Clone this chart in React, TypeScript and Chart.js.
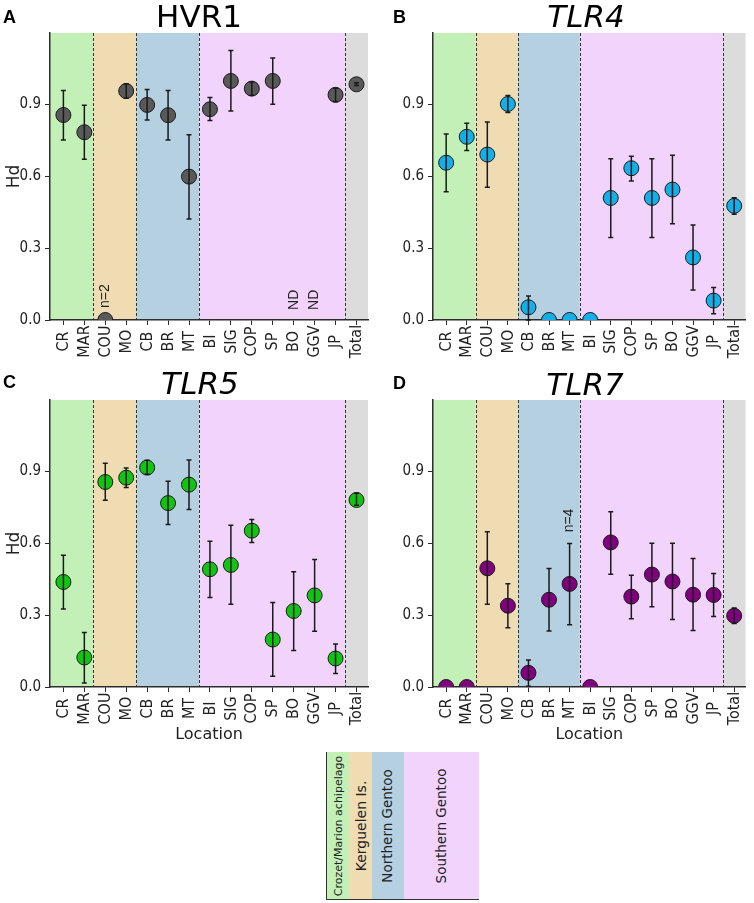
import React, { useEffect, useRef } from 'react';
import { Chart, registerables } from 'chart.js';

Chart.register(...registerables);

// ---------- data ----------
const locations = ['CR', 'MAR', 'COU', 'MO', 'CB', 'BR', 'MT', 'BI', 'SIG', 'COP', 'SP', 'BO', 'GGV', 'JP', 'Total'];
const yTickValues = [0, 0.3, 0.6, 0.9];
const yMax = 1.197;
const xMin = -0.64;
const xMax = 14.55;
// separators between population groups (in location-index units)
const groupEdges = [1.43, 3.48, 6.5, 13.45];
const groupColors = ['#c2f0b7', '#f0dcb3', '#b4d0e1', '#f2d3fb', '#dcdcdc'];
const legendGroups = ['Crozet/Marion achipelago', 'Kerguelen Is.', 'Northern Gentoo', 'Southern Gentoo'];

const hvr1Hd = [0.855, 0.783, 0, 0.955, 0.897, 0.854, 0.598, 0.879, 0.997, 0.965, 0.997, null, null, 0.939, 0.983];
const hvr1Lo = [0.751, 0.670, null, 0.925, 0.834, 0.751, 0.421, 0.832, 0.872, 0.937, 0.900, null, null, 0.911, 0.978];
const hvr1Hi = [0.957, 0.896, null, 0.985, 0.961, 0.957, 0.773, 0.928, 1.124, 0.993, 1.093, null, null, 0.967, 0.989];
const hvr1Notes = [
  { index: 2, value: 0.05, text: 'n=2' },
  { index: 11, value: 0.042, text: 'ND' },
  { index: 12, value: 0.042, text: 'ND' },
];

const tlr4Hd = [0.656, 0.764, 0.690, 0.901, 0.053, 0, 0, 0, 0.509, 0.633, 0.509, 0.544, 0.261, 0.081, 0.476];
const tlr4Lo = [0.535, 0.707, 0.554, 0.865, 0.0, null, null, null, 0.344, 0.580, 0.344, 0.401, 0.125, 0.026, 0.441];
const tlr4Hi = [0.776, 0.821, 0.826, 0.936, 0.100, null, null, null, 0.673, 0.683, 0.673, 0.687, 0.396, 0.136, 0.510];

const tlr5Hd = [0.438, 0.123, 0.855, 0.873, 0.915, 0.767, 0.844, 0.491, 0.509, 0.652, 0.198, 0.317, 0.382, 0.119, 0.780];
const tlr5Lo = [0.325, 0.017, 0.779, 0.832, 0.887, 0.678, 0.740, 0.373, 0.345, 0.603, 0.045, 0.152, 0.233, 0.056, 0.758];
const tlr5Hi = [0.550, 0.227, 0.933, 0.913, 0.946, 0.858, 0.947, 0.608, 0.675, 0.699, 0.352, 0.481, 0.532, 0.179, 0.808];

const tlr7Hd = [0, 0, 0.495, 0.339, 0.059, 0.364, 0.430, 0, 0.603, 0.377, 0.469, 0.440, 0.385, 0.384, 0.297];
const tlr7Lo = [null, null, 0.345, 0.247, 0.003, 0.234, 0.260, null, 0.470, 0.285, 0.335, 0.282, 0.236, 0.294, 0.265];
const tlr7Hi = [null, null, 0.647, 0.431, 0.113, 0.494, 0.599, null, 0.731, 0.466, 0.600, 0.600, 0.536, 0.473, 0.329];
const tlr7Notes = [{ index: 6, value: 0.645, text: 'n=4' }];

// ---------- styles ----------
const NARROW = "'Liberation Sans Narrow', 'DejaVu Sans Condensed', 'Liberation Sans', Arial, sans-serif";
const SANS = "'Liberation Sans', Arial, sans-serif";
const DV = "'DejaVu Sans', Verdana, sans-serif";
const INK = '#222222';
const AXIS = '#2d2d2d';

type Note = { index: number; value: number; text: string };
type PanelProps = {
  left: number; top: number; width: number; height: number;
  padTop: number; padRight: number; yAxisW: number; xAxisH: number;
  title: string; italic: boolean; titleX: number; titleBase: number;
  letter: string; letterX: number; letterBase: number;
  values: (number | null)[]; lo: (number | null)[]; hi: (number | null)[];
  color: string; yTitle: boolean; xTitle: boolean; notes: Note[];
};

function Panel(p: PanelProps) {
  const ref = useRef<HTMLCanvasElement>(null);
  useEffect(() => {
    const canvas = ref.current;
    if (!canvas) return;
    const pts = p.values
      .map((v, i) => (v == null ? null : { x: i, y: v }))
      .filter((d) => d !== null);

    const decor = {
      id: 'decor',
      beforeDraw(chart: any) {
        const { ctx, chartArea: a, scales } = chart;
        const xs = scales.x;
        const edges = [a.left, ...groupEdges.map((e) => xs.getPixelForValue(e)), a.right];
        ctx.save();
        groupColors.forEach((c, i) => {
          ctx.fillStyle = c;
          ctx.fillRect(edges[i], a.top, edges[i + 1] - edges[i], a.bottom - a.top);
        });
        ctx.strokeStyle = '#333';
        ctx.lineWidth = 1;
        ctx.setLineDash([3, 2]);
        for (let i = 1; i < edges.length - 1; i++) {
          const x = Math.round(edges[i]) + 0.5;
          ctx.beginPath();
          ctx.moveTo(x, a.top);
          ctx.lineTo(x, a.bottom);
          ctx.stroke();
        }
        ctx.restore();
      },
      afterDatasetsDraw(chart: any) {
        const { ctx, scales } = chart;
        const xs = scales.x, ys = scales.y;
        ctx.save();
        ctx.strokeStyle = '#1a1a1a';
        ctx.lineWidth = 1.5;
        p.lo.forEach((lo, i) => {
          const hi = p.hi[i];
          if (lo == null || hi == null) return;
          const x = xs.getPixelForValue(i);
          const y1 = ys.getPixelForValue(lo);
          const y2 = ys.getPixelForValue(hi);
          ctx.beginPath();
          ctx.moveTo(x, y1); ctx.lineTo(x, y2);
          ctx.moveTo(x - 2.5, y1); ctx.lineTo(x + 2.5, y1);
          ctx.moveTo(x - 2.5, y2); ctx.lineTo(x + 2.5, y2);
          ctx.stroke();
        });
        ctx.restore();
      },
      afterDraw(chart: any) {
        const { ctx, chartArea: a, scales } = chart;
        const xs = scales.x, ys = scales.y;
        ctx.save();
        // x tick labels (rotated, centred on their tick)
        ctx.fillStyle = INK;
        ctx.font = `16px ${NARROW}`;
        ctx.textAlign = 'center';
        ctx.textBaseline = 'middle';
        locations.forEach((lab, i) => {
          ctx.save();
          ctx.translate(xs.getPixelForValue(i) + 0.5, a.bottom + 21.5);
          ctx.rotate(-Math.PI / 2);
          ctx.fillText(lab, 0, 0);
          ctx.restore();
        });
        // annotations
        ctx.font = `14px ${SANS}`;
        ctx.textAlign = 'left';
        p.notes.forEach((n) => {
          ctx.save();
          ctx.translate(xs.getPixelForValue(n.index), ys.getPixelForValue(n.value));
          ctx.rotate(-Math.PI / 2);
          ctx.fillText(n.text, 0, 0);
          ctx.restore();
        });
        // title
        ctx.fillStyle = '#000';
        ctx.textBaseline = 'alphabetic';
        ctx.textAlign = 'center';
        ctx.font = `${p.italic ? 'italic ' : ''}31px ${DV}`;
        ctx.fillText(p.title, p.titleX, p.titleBase);
        // panel letter
        ctx.textAlign = 'left';
        ctx.font = `bold 18px ${SANS}`;
        ctx.fillText(p.letter, p.letterX, p.letterBase);
        ctx.restore();
      },
    };

    const chart = new Chart(canvas, {
      type: 'scatter',
      data: {
        datasets: [
          {
            data: pts as any,
            backgroundColor: p.color,
            borderColor: '#1a1a1a',
            borderWidth: 1,
            pointRadius: 7.5,
            pointHoverRadius: 7.5,
            clip: 0,
          },
        ],
      },
      options: {
        animation: false,
        responsive: false,
        events: [],
        layout: { padding: { left: 0, right: p.padRight, top: p.padTop, bottom: 0 } },
        plugins: { legend: { display: false }, tooltip: { enabled: false }, title: { display: false } },
        scales: {
          x: {
            type: 'linear',
            min: xMin,
            max: xMax,
            afterBuildTicks: (s: any) => { s.ticks = locations.map((_, i) => ({ value: i })); },
            afterFit: (s: any) => { s.height = p.xAxisH; },
            ticks: { display: false },
            grid: { drawOnChartArea: false, drawTicks: true, tickLength: 5, color: AXIS, lineWidth: 1 },
            border: { display: true, color: AXIS, width: 1.5 },
            title: {
              display: p.xTitle,
              text: 'Location',
              color: INK,
              font: { family: DV, size: 16 },
              padding: { top: 0, bottom: 6 },
            },
          },
          y: {
            type: 'linear',
            min: 0,
            max: yMax,
            afterBuildTicks: (s: any) => { s.ticks = yTickValues.map((v) => ({ value: v })); },
            afterFit: (s: any) => { s.width = p.yAxisW; },
            ticks: {
              color: INK,
              font: { family: NARROW, size: 15 },
              padding: 4,
              callback: (v: any) => Number(v).toFixed(1),
            },
            grid: { drawOnChartArea: false, drawTicks: true, tickLength: 5, color: AXIS, lineWidth: 1 },
            border: { display: true, color: AXIS, width: 1.5 },
            title: {
              display: p.yTitle,
              text: 'Hd',
              color: INK,
              font: { family: DV, size: 17 },
              padding: { top: 4, bottom: 0 },
            },
          },
        },
      } as any,
      plugins: [decor],
    });
    return () => chart.destroy();
  }, []);
  return (
    <canvas
      ref={ref}
      width={p.width}
      height={p.height}
      style={{ position: 'absolute', left: p.left, top: p.top, width: p.width, height: p.height }}
    />
  );
}

const legendFontSizes = [11, 14, 13.5, 13.5];
const legendWidths = [22, 23, 32, 75];

export default function App() {
  return (
    <div style={{ position: 'absolute', left: 0, top: 0, width: 754, height: 903, background: '#fff' }}>
      <Panel left={0} top={0} width={377} height={370} padTop={33} padRight={9} yAxisW={50} xAxisH={50}
        title="HVR1" italic={false} titleX={199} titleBase={27} letter="A" letterX={3} letterBase={23}
        values={hvr1Hd} lo={hvr1Lo} hi={hvr1Hi} color="#595959" yTitle={true} xTitle={false} notes={hvr1Notes} />
      <Panel left={377} top={0} width={377} height={370} padTop={33} padRight={4} yAxisW={56} xAxisH={50}
        title="TLR4" italic={true} titleX={209} titleBase={27} letter="B" letterX={16} letterBase={23}
        values={tlr4Hd} lo={tlr4Lo} hi={tlr4Hi} color="#14aee8" yTitle={false} xTitle={false} notes={[]} />
      <Panel left={0} top={370} width={377} height={380} padTop={30} padRight={9} yAxisW={50} xAxisH={63}
        title="TLR5" italic={true} titleX={200} titleBase={24} letter="C" letterX={3} letterBase={18}
        values={tlr5Hd} lo={tlr5Lo} hi={tlr5Hi} color="#12c412" yTitle={true} xTitle={true} notes={[]} />
      <Panel left={377} top={370} width={377} height={380} padTop={30} padRight={4} yAxisW={56} xAxisH={63}
        title="TLR7" italic={true} titleX={208} titleBase={25} letter="D" letterX={16} letterBase={19}
        values={tlr7Hd} lo={tlr7Lo} hi={tlr7Hi} color="#800080" yTitle={false} xTitle={true} notes={tlr7Notes} />
      <div style={{
        position: 'absolute', left: 326, top: 752, height: 147, display: 'flex',
        borderLeft: '1.5px solid #333', borderBottom: '1.5px solid #333',
      }}>
        {legendGroups.map((g, i) => (
          <div key={g} style={{ width: legendWidths[i], height: '100%', background: groupColors[i], position: 'relative' }}>
            <span style={{
              position: 'absolute', left: '50%', top: '50%',
              transform: 'translate(-50%, -50%) rotate(-90deg)', whiteSpace: 'nowrap',
              fontFamily: DV, fontSize: legendFontSizes[i], color: INK, lineHeight: 1,
            }}>{g}</span>
          </div>
        ))}
      </div>
    </div>
  );
}
